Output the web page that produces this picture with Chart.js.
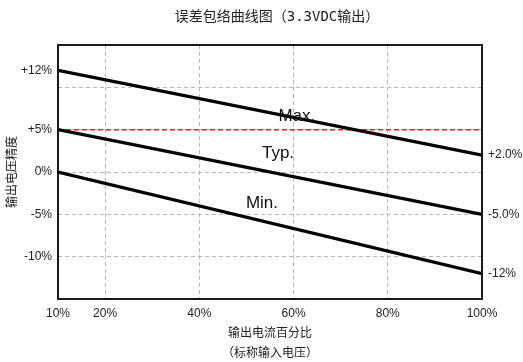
<!DOCTYPE html>
<html>
<head>
<meta charset="utf-8">
<title>误差包络曲线图</title>
<script src="https://cdn.jsdelivr.net/npm/chart.js@4.4.1/dist/chart.umd.min.js"></script>
<style>
  html, body { margin: 0; padding: 0; background: #fff; }
  canvas { display: block; }
</style>
</head>
<body>
<canvas id="envelope" width="523" height="362"></canvas>
<script>
// Output current (% of rated load) and the error envelope at each end
const loadPercent = [10, 100];
const maxError = [12, 2];
const typError = [5, -5];
const minError = [0, -12];
const refLevel = [5, 5];

// Axis ticks and their labels
const xTicks = [10, 20, 40, 60, 80, 100];
const leftTicks = [-10, -5, 0, 5, 10, 12];
const leftTickLabels = ['-10%', '-5%', '0%', '+5%', '', '+12%'];
const rightTicks = [-12, -5, 2];
const rightTickLabels = ['-12%', '-5.0%', '+2.0%'];
const curveNames = ['Max.', 'Typ.', 'Min.'];

const toPoints = (ys) => loadPercent.map((x, i) => ({ x: x, y: ys[i] }));

const TICK_FONT = { family: "'Liberation Sans', Arial, sans-serif", size: 12 };
const CJK_FONT = "'Noto Sans CJK SC', sans-serif";
const GRID_GRAY = '#b8b8b8';
const CLEAR = 'rgba(0,0,0,0)';

// Chart heading, drawn above the plot
const headingPlugin = {
  id: 'heading',
  afterDraw(chart) {
    const ctx = chart.ctx;
    ctx.save();
    ctx.font = "14px 'DejaVu Sans Mono', 'Noto Sans CJK SC', monospace";
    ctx.fillStyle = '#222';
    ctx.textAlign = 'center';
    ctx.textBaseline = 'middle';
    ctx.fillText('误差包络曲线图（3.3VDC输出）', 277, 17);
    ctx.restore();
  }
};

// Curve names placed in data space next to each line
const curveLabelPlugin = {
  id: 'curveLabels',
  afterDatasetsDraw(chart, args, opts) {
    const { ctx, scales: { x, y } } = chart;
    ctx.save();
    ctx.font = "17px 'Liberation Sans', Arial, sans-serif";
    ctx.fillStyle = '#111';
    ctx.textAlign = 'center';
    ctx.textBaseline = 'alphabetic';
    opts.anchors.forEach((a, i) => {
      ctx.fillText(curveNames[i], x.getPixelForValue(a[0]), y.getPixelForValue(a[1]));
    });
    ctx.restore();
  }
};

// Box around the plotting area
const framePlugin = {
  id: 'frame',
  afterDatasetsDraw(chart) {
    const { ctx, chartArea: a } = chart;
    ctx.save();
    ctx.strokeStyle = '#1a1a1a';
    ctx.lineWidth = 2;
    ctx.strokeRect(a.left, a.top, a.right - a.left, a.bottom - a.top);
    ctx.restore();
  }
};

const lineStyle = {
  borderColor: '#000',
  borderWidth: 3.2,
  pointRadius: 0,
  borderCapStyle: 'butt',
  tension: 0,
  fill: false
};

new Chart(document.getElementById('envelope'), {
  type: 'line',
  data: {
    datasets: [
      Object.assign({ label: curveNames[0], data: toPoints(maxError) }, lineStyle),
      Object.assign({ label: curveNames[1], data: toPoints(typError) }, lineStyle),
      Object.assign({ label: curveNames[2], data: toPoints(minError) }, lineStyle),
      {
        label: '+5%',
        data: toPoints(refLevel),
        borderColor: '#e3222b',
        borderWidth: 1.5,
        borderDash: [5, 3],
        pointRadius: 0,
        fill: false
      }
    ]
  },
  options: {
    responsive: false,
    animation: false,
    devicePixelRatio: 1,
    layout: { padding: { top: 45, left: 0, right: 0, bottom: 0 } },
    plugins: {
      legend: { display: false },
      tooltip: { enabled: false },
      curveLabels: { anchors: [[60.7, 6.0], [56.7, 1.65], [53.3, -4.2]] }
    },
    scales: {
      x: {
        type: 'linear',
        min: 10,
        max: 100,
        afterBuildTicks: (axis) => { axis.ticks = xTicks.map(v => ({ value: v })); },
        afterFit: (axis) => { axis.height = 63; },
        ticks: {
          autoSkip: false,
          maxRotation: 0,
          padding: 7,
          color: '#222',
          font: TICK_FONT,
          callback: (v) => v + '%'
        },
        grid: {
          drawTicks: false,
          lineWidth: 1,
          color: (c) => (c.tick && (c.tick.value === 10 || c.tick.value === 100)) ? CLEAR : GRID_GRAY
        },
        border: { display: false, dash: [4, 3] },
        title: {
          display: true,
          text: ['输出电流百分比', '（标称输入电压）'],
          color: '#222',
          font: { family: CJK_FONT, size: 12, lineHeight: 1.625 },
          padding: { top: 0, bottom: 0 }
        }
      },
      y: {
        position: 'left',
        min: -15,
        max: 15,
        afterBuildTicks: (axis) => { axis.ticks = leftTicks.map(v => ({ value: v })); },
        afterFit: (axis) => { axis.width = 58; },
        ticks: {
          padding: 6,
          color: '#222',
          font: TICK_FONT,
          callback: (v) => leftTickLabels[leftTicks.indexOf(v)]
        },
        grid: {
          drawTicks: false,
          lineWidth: 1,
          color: (c) => (c.tick && c.tick.value === 12) ? CLEAR : GRID_GRAY
        },
        border: { display: false, dash: [4, 3] },
        title: {
          display: true,
          text: '输出电压精度',
          color: '#222',
          font: { family: CJK_FONT, size: 12 },
          padding: { top: 4, bottom: 0 }
        }
      },
      yRight: {
        position: 'right',
        min: -15,
        max: 15,
        afterBuildTicks: (axis) => { axis.ticks = rightTicks.map(v => ({ value: v })); },
        afterFit: (axis) => { axis.width = 41; },
        ticks: {
          padding: 6,
          color: '#222',
          font: TICK_FONT,
          callback: (v) => rightTickLabels[rightTicks.indexOf(v)]
        },
        grid: { display: false, drawTicks: false },
        border: { display: false }
      }
    }
  },
  plugins: [headingPlugin, curveLabelPlugin, framePlugin]
});
</script>
</body>
</html>
